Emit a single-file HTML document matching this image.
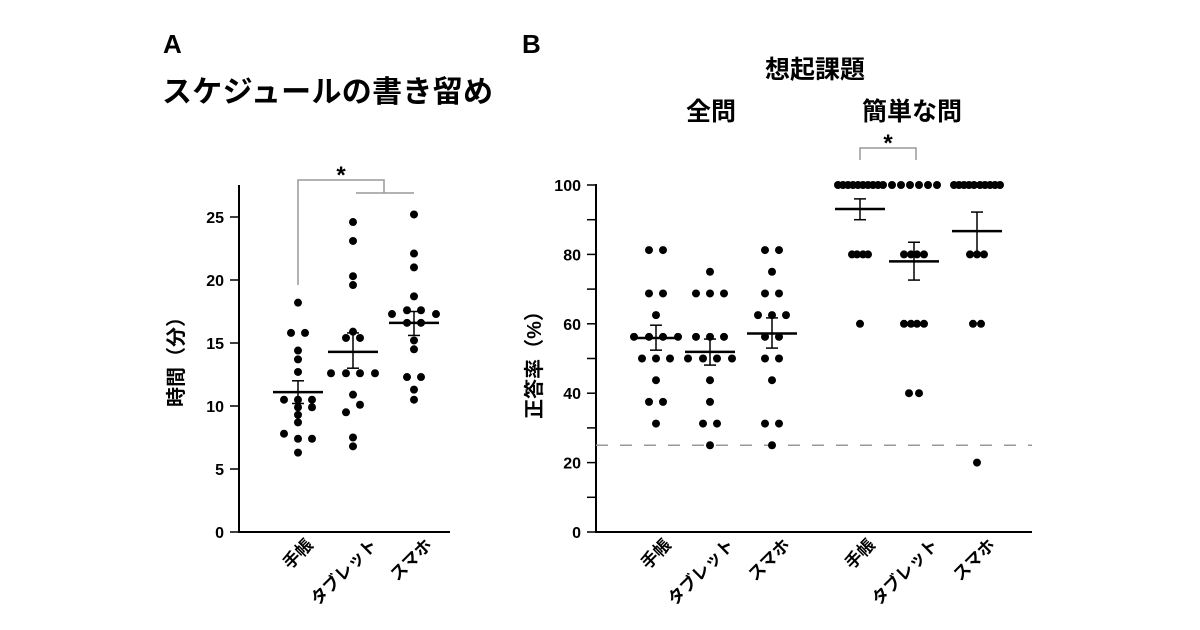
<!DOCTYPE html>
<html><head><meta charset="utf-8"><style>
html,body{margin:0;padding:0;background:#fff;}
svg{display:block;font-family:"Liberation Sans","Noto Sans CJK JP",sans-serif;}
</style></head><body>
<svg id="s" width="1200" height="630" viewBox="0 0 1200 630" xmlns="http://www.w3.org/2000/svg">
<text x="163" y="53" font-size="26" font-weight="bold">A</text>
<text x="162" y="102" font-size="30" font-weight="bold" textLength="331">スケジュールの書き留め</text>
<text x="522" y="53" font-size="26" font-weight="bold">B</text>
<text x="815" y="78" font-size="25" font-weight="bold" text-anchor="middle">想起課題</text>
<text x="711" y="120" font-size="25" font-weight="bold" text-anchor="middle">全問</text>
<text x="912" y="120" font-size="25" font-weight="bold" text-anchor="middle">簡単な問</text>
<text transform="translate(183,357) rotate(-90)" font-size="20" font-weight="bold" text-anchor="middle">時間（分）</text>
<text transform="translate(541,360) rotate(-90)" font-size="20" font-weight="bold" text-anchor="middle">正答率（%）</text>
<g id="ga"></g><g id="gb"></g>
</svg>
<script>
// Panel A data
const catsA = ["手帳","タブレット","スマホ"];
const ticksA = [0,5,10,15,20,25];
const dotsA = [
 [[18.2,[0]],[15.8,[-7,7]],[14.4,[0]],[13.7,[0]],[12.7,[0]],[10.5,[-14,0,14]],[9.9,[0,14]],[9.3,[0]],[8.7,[0]],[7.8,[-14]],[7.4,[0,14]],[6.3,[0]]],
 [[24.6,[0]],[23.1,[0]],[20.3,[0]],[19.6,[0]],[15.9,[0]],[15.4,[-7,7]],[12.6,[-22,-7,7,22]],[10.9,[0]],[10.1,[7]],[9.5,[-7]],[7.5,[0]],[6.8,[0]]],
 [[25.2,[0]],[22.1,[0]],[21.0,[0]],[18.7,[0]],[17.6,[-7,7]],[17.3,[-22,22]],[16.6,[-7,7]],[15.2,[0]],[14.5,[0]],[12.3,[-7,7]],[11.3,[0]],[10.5,[0]]]
];
const meanA = [11.1,14.3,16.6];
const seHiA = [12.0,15.8,17.5];
const seLoA = [10.2,13.0,15.6];
// Panel B data
const catsB = ["手帳","タブレット","スマホ","手帳","タブレット","スマホ"];
const ticksB = [0,20,40,60,80,100];
const dotsB = [
 [[81.25,[-7,7]],[68.75,[-7,7]],[62.5,[0]],[56.25,[-22,-7,7,22]],[50,[-14,0,14]],[43.75,[0]],[37.5,[-7,7]],[31.25,[0]]],
 [[75,[0]],[68.75,[-14,0,14]],[56.25,[-14,0,14]],[50,[-22,-7,7,22]],[43.75,[0]],[37.5,[0]],[31.25,[-7,7]],[25,[0]]],
 [[81.25,[-7,7]],[75,[0]],[68.75,[-7,7]],[62.5,[-14,0,14]],[56.25,[-7,7]],[50,[-7,7]],[43.75,[0]],[31.25,[-7,7]],[25,[0]]],
 [[100,[-22,-17,-12,-7,-2,3,8,13,18,23]],[80,[-8,-3,3,8]],[60,[0]]],
 [[100,[-22,-13,-4,5,14,23]],[80,[-10,-3,3,10]],[60,[-10,-3,3,10]],[40,[-5,5]]],
 [[100,[-23,-18,-13,-8,-3,3,8,13,18,23]],[80,[-7,0,7]],[60,[-4,4]],[20,[0]]]
];
const meanB = [55.9,51.9,57.2,93.1,78.0,86.7];
const seHiB = [59.6,55.6,61.7,96.0,83.5,92.2];
const seLoB = [52.4,48.1,53.0,90.0,72.6,80.4];
const chance = 25;

const NS="http://www.w3.org/2000/svg";
function mk(p,t,a){const e=document.createElementNS(NS,t);for(const k in a)e.setAttribute(k,a[k]);p.appendChild(e);return e;}
function panel(g,o){
 const y=v=>o.y0-(v-o.min)/(o.max-o.min)*(o.y0-o.y1);
 const ax=mk(g,'line',{x1:o.ax,x2:o.ax,y1:o.top,y2:o.y0+1,stroke:'#000','stroke-width':2});
 
 
 const xa=mk(g,'line',{x1:o.ax-1,x2:o.xend,y1:o.y0,y2:o.y0,stroke:'#000','stroke-width':2});
 
 
 for(let v=o.min;v<=o.max+1e-9;v+=o.minor){mk(g,'line',{x1:o.ax-9,x2:o.ax,y1:y(v),y2:y(v),stroke:'#000','stroke-width':1.5});}
 o.ticks.forEach(t=>{const e=mk(g,'text',{x:o.ax-15,y:y(t)+6,'font-size':16,'font-weight':'bold','text-anchor':'end'});e.textContent=t;
  
  });
 if(o.chance!=null){const d=mk(g,'line',{x1:o.ax,x2:o.xend,y1:y(o.chance),y2:y(o.chance),stroke:'#999','stroke-width':1.5,'stroke-dasharray':'12,12'});
  
  }
 o.cats.forEach((c,i)=>{const gx=o.gx[i];
  o.dots[i].forEach(r=>r[1].forEach(dx=>{const e=mk(g,'circle',{cx:gx+dx,cy:y(r[0]),r:4,fill:'#000'});
   
   }));
  const m=mk(g,'line',{x1:gx-25,x2:gx+25,y1:y(o.mean[i]),y2:y(o.mean[i]),stroke:'#000','stroke-width':2.5});
  
  
  mk(g,'line',{x1:gx,x2:gx,y1:y(o.hi[i]),y2:y(o.lo[i]),stroke:'#000','stroke-width':1.5});
  mk(g,'line',{x1:gx-6,x2:gx+6,y1:y(o.hi[i]),y2:y(o.hi[i]),stroke:'#000','stroke-width':1.5});
  mk(g,'line',{x1:gx-6,x2:gx+6,y1:y(o.lo[i]),y2:y(o.lo[i]),stroke:'#000','stroke-width':1.5});
  const t=mk(g,'text',{transform:`translate(${gx+10+c.length*3},546) rotate(-45)`,'font-size':17,'font-weight':'bold','text-anchor':'end'});t.textContent=c;
  
  
 });
}
panel(document.getElementById('ga'),{ax:239,top:185,y0:532,y1:217,min:0,max:25,minor:5,xend:450,ticks:ticksA,cats:catsA,gx:[298,353,414],dots:dotsA,mean:meanA,hi:seHiA,lo:seLoA});
panel(document.getElementById('gb'),{ax:596,top:184,y0:532,y1:185,min:0,max:100,minor:10,xend:1032,ticks:ticksB,cats:catsB,gx:[656,710,772,860,914,977],dots:dotsB,mean:meanB,hi:seHiB,lo:seLoB,chance:chance});
const s=document.getElementById('s');
const b1=mk(s,'path',{d:'M298,285 V180 H384 V193 M356,193 H414',fill:'none',stroke:'#999','stroke-width':1.5});


const st1=mk(s,'text',{x:341,y:183,'font-size':24,'font-weight':'bold','text-anchor':'middle'});st1.textContent='*';


const b2=mk(s,'path',{d:'M860,160 V148 H916 V160',fill:'none',stroke:'#999','stroke-width':1.5});


const st2=mk(s,'text',{x:888,y:151,'font-size':24,'font-weight':'bold','text-anchor':'middle'});st2.textContent='*';


</script>
</body></html>
